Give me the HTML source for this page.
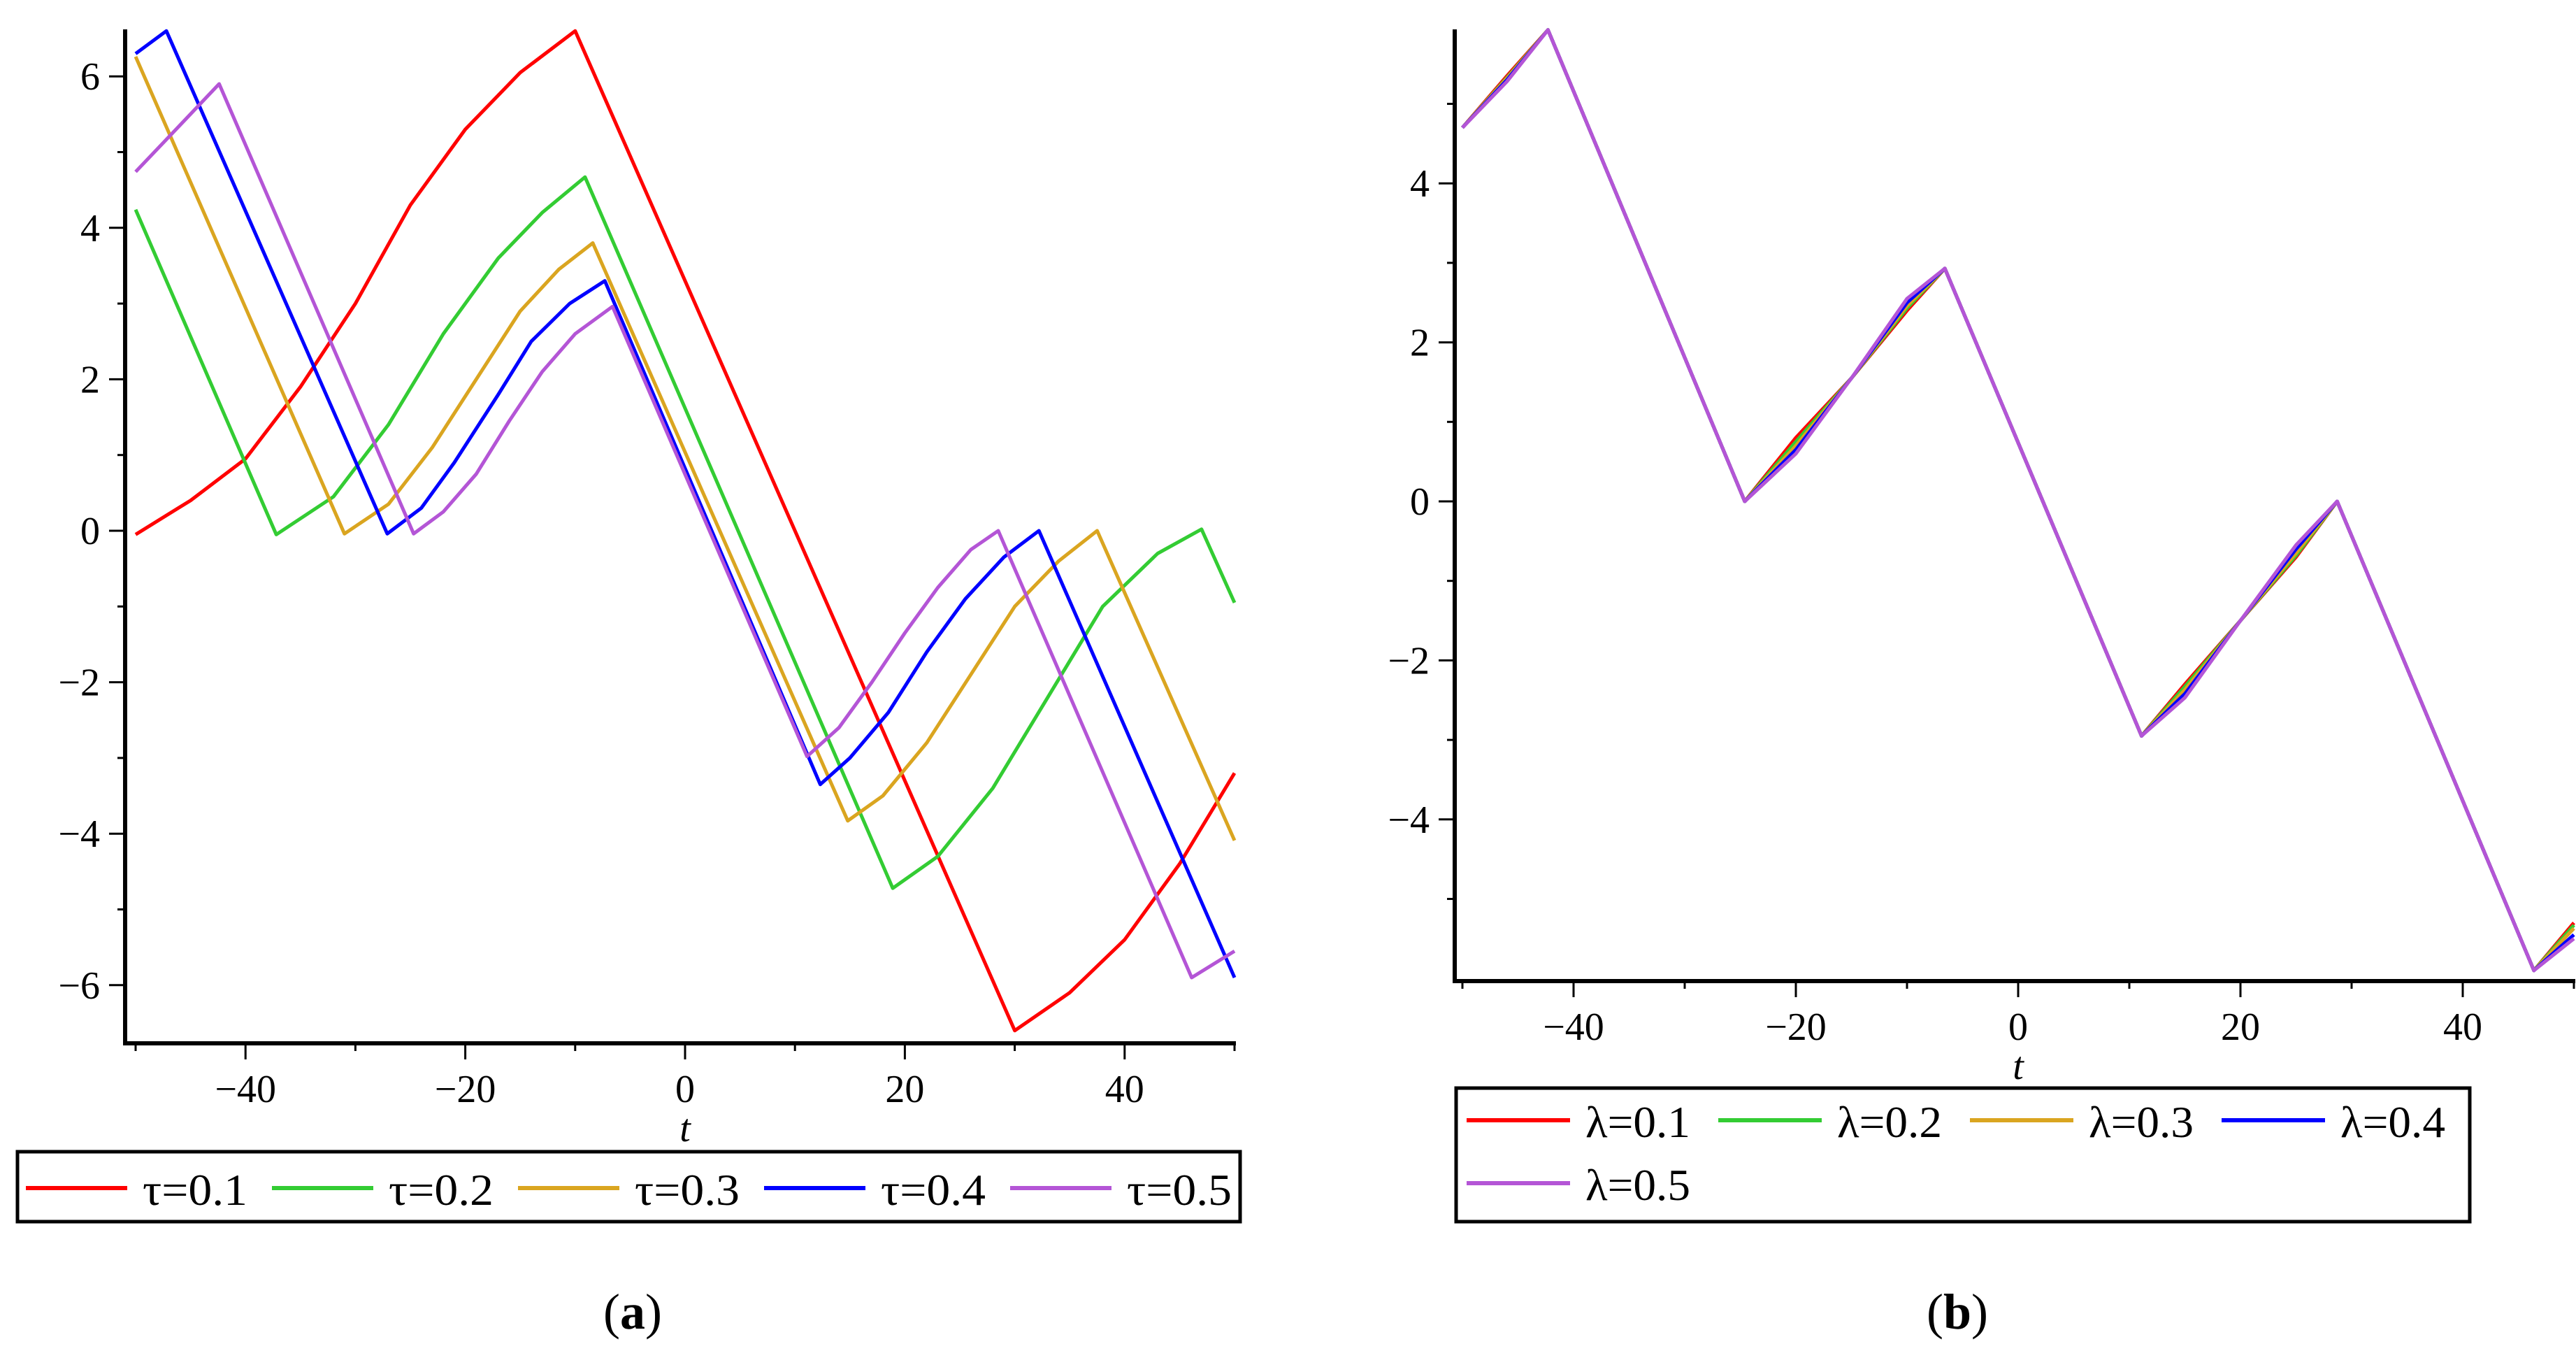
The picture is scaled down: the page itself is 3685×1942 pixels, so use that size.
<!DOCTYPE html>
<html><head><meta charset="utf-8"><style>
html,body{margin:0;padding:0;background:#fff;}
svg{display:block;}
text{font-family:"Liberation Serif",serif;fill:#000;}
</style></head><body>
<svg id="s" width="3685" height="1942" viewBox="0 0 3685 1942">
<text x="905" y="1900" font-size="72" text-anchor="middle">(<tspan font-weight="bold">a</tspan>)</text>
<text x="2800" y="1900" font-size="72" text-anchor="middle">(<tspan font-weight="bold">b</tspan>)</text>
</svg>
<script>
const colors = ["#ff0000","#33cc33","#daa520","#0000ff","#b455d6"];
// Left chart (tau)
const tauLabels = ["τ=0.1","τ=0.2","τ=0.3","τ=0.4","τ=0.5"];
const tauT1 = [-50,-45,-40,-35,-30,-25,-20,-15,-10,30,35,40,45,50];
const tauV1 = [-0.05,0.4,0.95,1.9,3.0,4.3,5.3,6.05,6.6,-6.6,-6.1,-5.4,-4.4,-3.2];
const tauT2 = [-50,-37.2,-32,-27,-22,-17,-13,-9.1,18.9,23,28,33,38,43,47,50];
const tauV2 = [4.24,-0.05,0.45,1.4,2.6,3.6,4.2,4.67,-4.72,-4.3,-3.4,-2.2,-1.0,-0.3,0.02,-0.95];
const tauT3 = [-50,-31,-27,-23,-19,-15,-11.5,-8.4,14.8,18,22,26,30,34,37.5,50];
const tauV3 = [6.26,-0.04,0.35,1.1,2.0,2.9,3.45,3.8,-3.83,-3.5,-2.8,-1.9,-1.0,-0.4,0,-4.09];
const tauT4 = [-50,-47.2,-27.1,-24,-21,-17,-14,-10.5,-7.3,12.3,15,18.5,22,25.5,29,32.2,50];
const tauV4 = [6.3,6.6,-0.04,0.3,0.9,1.8,2.5,3.0,3.3,-3.35,-3.0,-2.4,-1.6,-0.9,-0.35,0,-5.9];
const tauT5 = [-50,-46,-42.4,-24.7,-22,-19,-16,-13,-10,-6.6,11.1,14,17,20,23,26,28.5,46.1,50];
const tauV5 = [4.74,5.35,5.9,-0.04,0.25,0.75,1.45,2.1,2.6,2.96,-2.98,-2.6,-2.0,-1.35,-0.75,-0.25,0,-5.9,-5.55];
// Right chart (lambda)
const lamLabels = ["λ=0.1","λ=0.2","λ=0.3","λ=0.4","λ=0.5"];
const lamT = [-50,-46,-42.3,-24.6,-20,-15,-10,-6.6,11.1,15,20,25,28.7,46.4,50];
const lamV1 = [4.7,5.35,5.93,0,0.8,1.55,2.4,2.93,-2.95,-2.3,-1.5,-0.7,0,-5.9,-5.3];
const lamV2 = [4.7,5.33,5.93,0,0.75,1.55,2.43,2.93,-2.95,-2.33,-1.5,-0.68,0,-5.9,-5.33];
const lamV3 = [4.7,5.32,5.93,0,0.7,1.55,2.46,2.93,-2.95,-2.37,-1.5,-0.65,0,-5.9,-5.37];
const lamV4 = [4.7,5.3,5.93,0,0.65,1.55,2.5,2.93,-2.95,-2.42,-1.5,-0.6,0,-5.9,-5.45];
const lamV5 = [4.7,5.28,5.93,0,0.6,1.55,2.55,2.93,-2.95,-2.47,-1.5,-0.55,0,-5.9,-5.5];
const xTicks = [-40,-20,0,20,40];
const xMinor = [-50,-30,-10,10,30,50];
const tauYTicks = [-6,-4,-2,0,2,4,6];
const tauYMinor = [-5,-3,-1,1,3,5];
const lamYTicks = [-4,-2,0,2,4];
const lamYMinor = [-5,-3,-1,1,3,5];

const NS="http://www.w3.org/2000/svg";
const svg=document.getElementById('s');
function mk(tag,attrs,parent){const e=document.createElementNS(NS,tag);for(const k in attrs)e.setAttribute(k,attrs[k]);(parent||svg).appendChild(e);return e;}

function chart(cfg){
  const g=mk('g',{});
  
  
  const X=t=>cfg.x0+t*cfg.xs, Y=v=>cfg.y0-v*cfg.ys;
  const ax=mk('line',{x1:cfg.axL,y1:cfg.axB,x2:X(50)+2,y2:cfg.axB,stroke:'#000','stroke-width':6},g);
  
  
  const ay=mk('line',{x1:cfg.axL,y1:cfg.axT,x2:cfg.axL,y2:cfg.axB+3,stroke:'#000','stroke-width':6},g);
  
  
  xTicks.forEach(t=>{
    const l=mk('line',{x1:X(t),y1:cfg.axB,x2:X(t),y2:cfg.axB+23,stroke:'#000','stroke-width':3},g);
    
    
    const tx=mk('text',{x:X(t),y:cfg.axB+84,'font-size':56,'text-anchor':'middle'},g);
    tx.textContent=t<0?'\u2212'+(-t):String(t);
    
    
  });
  xMinor.forEach(t=>{
    const l=mk('line',{x1:X(t),y1:cfg.axB,x2:X(t),y2:cfg.axB+11,stroke:'#000','stroke-width':3},g);
    
    
  });
  cfg.yt.forEach(v=>{
    const l=mk('line',{x1:cfg.axL-23,y1:Y(v),x2:cfg.axL,y2:Y(v),stroke:'#000','stroke-width':3},g);
    
    
    const tx=mk('text',{x:cfg.axL-36,y:Y(v)+19,'font-size':56,'text-anchor':'end'},g);
    tx.textContent=v<0?'\u2212'+(-v):String(v);
    
    
  });
  cfg.ym.forEach(v=>{
    const l=mk('line',{x1:cfg.axL-11,y1:Y(v),x2:cfg.axL,y2:Y(v),stroke:'#000','stroke-width':3},g);
    
    
  });
  const xt=mk('text',{x:X(0),y:cfg.axB+140,'font-size':56,'font-style':'italic','text-anchor':'middle'},g);
  xt.textContent='t';
  
  
  cfg.series.forEach((s,i)=>{
    const d=s.t.map((t,j)=>(j?'L':'M')+X(t).toFixed(1)+','+Y(s.v[j]).toFixed(1)).join(' ');
    const p=mk('path',{d:d,fill:'none',stroke:colors[i],'stroke-width':5,'stroke-linejoin':'round'},g);
    
    
  });
  const lb=mk('rect',{x:cfg.lg.x,y:cfg.lg.y,width:cfg.lg.w,height:cfg.lg.h,fill:'none',stroke:'#000','stroke-width':5},g);
  
  
  cfg.labels.forEach((lab,i)=>{
    const row=Math.floor(i/cfg.lg.per), col=i%cfg.lg.per;
    const lx=cfg.lg.x+cfg.lg.pad+col*cfg.lg.sp, ly=cfg.lg.y+cfg.lg.r0+row*90;
    const l=mk('line',{x1:lx,y1:ly,x2:lx+cfg.lg.sw,y2:ly,stroke:colors[i],'stroke-width':6},g);
    
    
    const tx=mk('text',{x:lx+cfg.lg.sw+22,y:ly+24,'font-size':64,textLength:cfg.lg.tl,lengthAdjust:'spacingAndGlyphs'},g);
    tx.textContent=lab;
    
    
  });
}
chart({name:'chart-a',x0:980,xs:15.72,y0:759,ys:108.3,axL:179,axT:42,axB:1492,
  yt:tauYTicks,ym:tauYMinor,labels:tauLabels,
  series:[{t:tauT1,v:tauV1},{t:tauT2,v:tauV2},{t:tauT3,v:tauV3},{t:tauT4,v:tauV4},{t:tauT5,v:tauV5}],
  lg:{x:25,y:1647,w:1749,h:100,per:5,sp:352,r0:52,pad:12,sw:145,tl:150}});
chart({name:'chart-b',x0:2887,xs:15.9,y0:717,ys:113.7,axL:2081,axT:42,axB:1403,
  yt:lamYTicks,ym:lamYMinor,labels:lamLabels,
  series:[{t:lamT,v:lamV1},{t:lamT,v:lamV2},{t:lamT,v:lamV3},{t:lamT,v:lamV4},{t:lamT,v:lamV5}],
  lg:{x:2083,y:1556,w:1450,h:191,per:4,sp:360,r0:46,pad:15,sw:148,tl:150}});
</script>
</body></html>
